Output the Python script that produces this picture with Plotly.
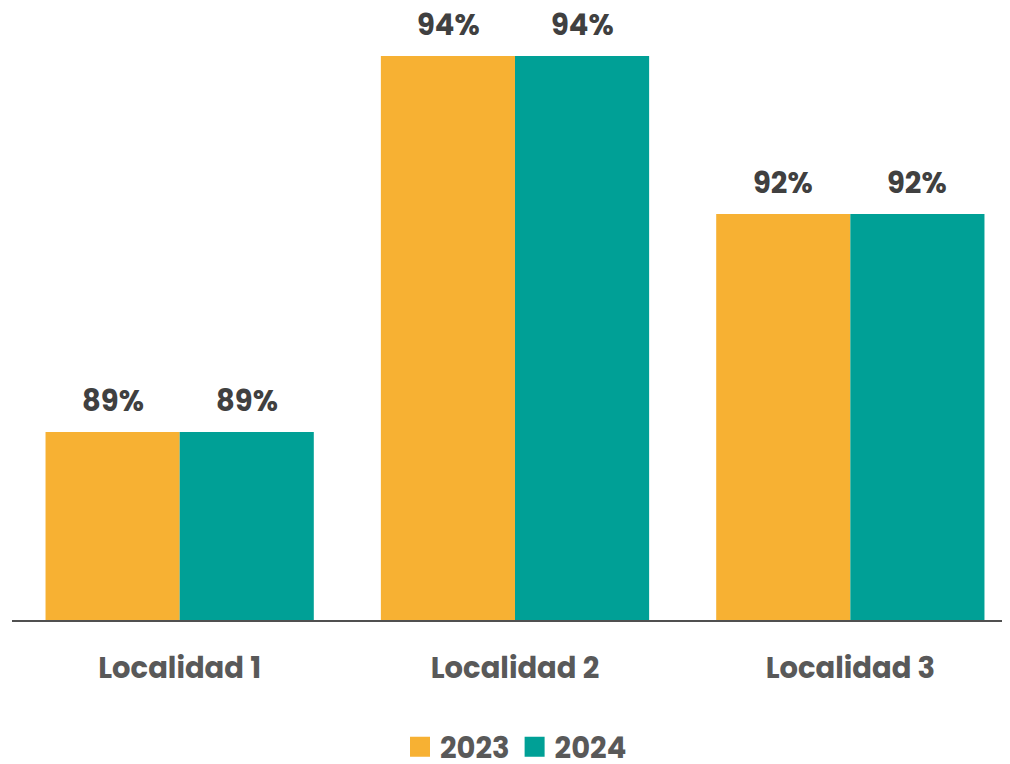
import plotly.graph_objects as go

categories = ["Localidad 1", "Localidad 2", "Localidad 3"]
series_names = ["2023", "2024"]
values_2023 = [89.0, 94.0, 91.9]
values_2024 = [89.0, 94.0, 91.9]
labels_2023 = ["89%", "94%", "92%"]
labels_2024 = ["89%", "94%", "92%"]

colors = ["#F7B133", "#00A096"]
FONT = "Poppins, Open Sans, sans-serif"

fig = go.Figure()
for name, vals, col in zip(series_names, [values_2023, values_2024], colors):
    fig.add_trace(go.Bar(x=categories, y=vals, name=name, showlegend=False,
                         marker=dict(color=col, line=dict(width=0))))
# legend entries with larger square swatches
for name, col in zip(series_names, colors):
    fig.add_trace(go.Scatter(x=[None], y=[None], mode="markers", name=name,
                             marker=dict(symbol="square", size=16, color=col,
                                         line=dict(color=col, width=4))))

for vals, labs, shift in [(values_2023, labels_2023, -67), (values_2024, labels_2024, 67)]:
    for c, v, t in zip(categories, vals, labs):
        fig.add_annotation(x=c, y=v, text=t, showarrow=False, xshift=shift, yshift=9,
                           yanchor="bottom", font=dict(family=FONT, size=29, color="#404040", weight="bold"))

fig.update_layout(
    width=1010, height=764,
    margin=dict(l=4, r=0, t=3, b=152, autoexpand=False),
    paper_bgcolor="white", plot_bgcolor="white",
    barmode="group", bargap=0.2, bargroupgap=0,
    showlegend=True,
    legend=dict(orientation="h", x=0.503, xanchor="center", xref="container",
                y=0.033, yanchor="middle", yref="container",
                font=dict(family=FONT, size=29, color="#595959", weight="bold"),
                itemsizing="trace", tracegroupgap=0),
    xaxis=dict(range=[-0.5, 2.5], showline=True, linecolor="#505050", linewidth=2,
               ticks="", ticklabelstandoff=21,
               tickfont=dict(family=FONT, size=29, color="#595959", weight="bold"),
               showgrid=False),
    yaxis=dict(range=[86.5, 94.6], visible=False, showgrid=False),
)

fig.write_html("out.html")
